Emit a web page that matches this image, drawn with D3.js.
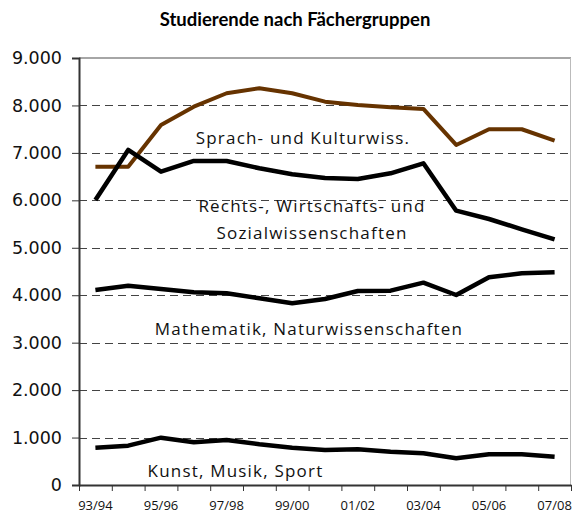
<!DOCTYPE html>
<html><head><meta charset="utf-8">
<script src="https://cdn.jsdelivr.net/npm/d3@7"></script>
<style>
html,body{margin:0;padding:0;background:#fff;}
svg{display:block;}
</style>
</head><body>
<svg id="chart" width="572" height="513"></svg>
<script>
const title = "Studierende nach Fächergruppen";
const categories = ["93/94","94/95","95/96","96/97","97/98","98/99","99/00","00/01","01/02","02/03","03/04","04/05","05/06","06/07","07/08"];
const yTicks = [0,1000,2000,3000,4000,5000,6000,7000,8000,9000];
const sprachKultur = [6710,6710,7590,7975,8257,8362,8257,8080,8010,7961,7926,7167,7498,7498,7258];
const rechtsWiSo   = [6008,7062,6605,6830,6830,6675,6549,6470,6450,6570,6781,5782,5607,5390,5179];
const mathNat      = [4110,4201,4131,4062,4041,3936,3830,3920,4090,4096,4265,4005,4378,4462,4483];
const kunstMusik   = [787,829,998,900,949,858,787,738,752,702,668,563,647,647,597];
const seriesNames = ["Sprach- und Kulturwiss.", "Rechts-, Wirtschafts- und|Sozialwissenschaften", "Mathematik, Naturwissenschaften", "Kunst, Musik, Sport"];

const svg = d3.select("#chart");
const L = 79, R = 571, T = 58, B = 485;

const x = d3.scaleLinear().domain([0, categories.length]).range([L, R]);
const y = d3.scaleLinear().domain([0, 9000]).range([B, T]);
const de = d3.formatLocale({decimal: ",", thousands: ".", grouping: [3], currency: ["", "€"]});
const fmt = de.format(",");

// title
svg.append("text").attr("x", 295).attr("y", 26)
  .attr("text-anchor", "middle")
  .attr("font-family", "Lato, 'Open Sans', sans-serif")
  .attr("font-weight", "bold").attr("font-size", 18.5)
  .attr("fill", "#000").text(title);

// gridlines
svg.append("g").selectAll("line").data(yTicks.filter(d => d > 0 && d < 9000)).join("line")
  .attr("x1", L).attr("x2", R)
  .attr("y1", d => Math.round(y(d)) + 0.5).attr("y2", d => Math.round(y(d)) + 0.5)
  .attr("stroke", "#444").attr("stroke-width", 1).attr("stroke-dasharray", "8,5");

// frame top / right
svg.append("line").attr("x1", L).attr("x2", R).attr("y1", T).attr("y2", T)
  .attr("stroke", "#888").attr("stroke-width", 1.5);
svg.append("line").attr("x1", R - 0.5).attr("x2", R - 0.5).attr("y1", T).attr("y2", B)
  .attr("stroke", "#bbb").attr("stroke-width", 1);

// y axis
const yAxis = svg.append("g").attr("transform", `translate(${L},0)`)
  .call(d3.axisLeft(y).tickValues(yTicks).tickFormat(d => fmt(d)).tickSize(7).tickPadding(10));
yAxis.select(".domain").attr("stroke", "#333").attr("stroke-width", 2);
yAxis.selectAll(".tick line").attr("stroke", "#333").attr("stroke-width", 1);
yAxis.selectAll("text").attr("font-family", "'DejaVu Sans', sans-serif").attr("font-size", 17.5).attr("fill", "#111");

// x axis
const xAxis = svg.append("g").attr("transform", `translate(0,${B})`)
  .call(d3.axisBottom(x).tickValues(d3.range(categories.length + 1)).tickFormat("").tickSize(6).tickSizeOuter(0));
xAxis.select(".domain").attr("stroke", "#333").attr("stroke-width", 2);
xAxis.selectAll(".tick line").attr("stroke", "#333").attr("stroke-width", 1);

svg.append("g").selectAll("text").data(categories.map((c, i) => ({c, i})).filter(d => d.i % 2 === 0)).join("text")
  .attr("x", d => x(d.i + 0.5)).attr("y", 510)
  .attr("text-anchor", "middle")
  .attr("font-family", "'Open Sans', sans-serif").attr("font-size", 13).attr("fill", "#111")
  .text(d => d.c);

// lines
const line = d3.line().x((d, i) => x(i + 0.5)).y(d => y(d));
const series = [
  {v: sprachKultur, color: "#663300", w: 4},
  {v: rechtsWiSo, color: "#000", w: 4.5},
  {v: mathNat, color: "#000", w: 4.5},
  {v: kunstMusik, color: "#000", w: 4.5}
];
svg.append("g").selectAll("path").data(series).join("path")
  .attr("d", d => line(d.v)).attr("fill", "none")
  .attr("stroke", d => d.color).attr("stroke-width", d => d.w)
  .attr("stroke-linejoin", "round");

// series labels
const labelPos = [
  {x: 303, y: 144}, {x: 312, y: 212, dy: 26.5}, {x: 309, y: 335}, {x: 235.5, y: 477}
];
seriesNames.forEach((name, k) => {
  const parts = name.split("|");
  const t = svg.append("text").attr("text-anchor", "middle")
    .attr("font-family", "'Open Sans', sans-serif").attr("font-size", 17)
    .attr("letter-spacing", 1.2).attr("fill", "#111");
  parts.forEach((p, j) => {
    t.append("tspan").attr("x", labelPos[k].x).attr("y", labelPos[k].y + j * (labelPos[k].dy || 0)).text(p);
  });
});
</script>
</body></html>
